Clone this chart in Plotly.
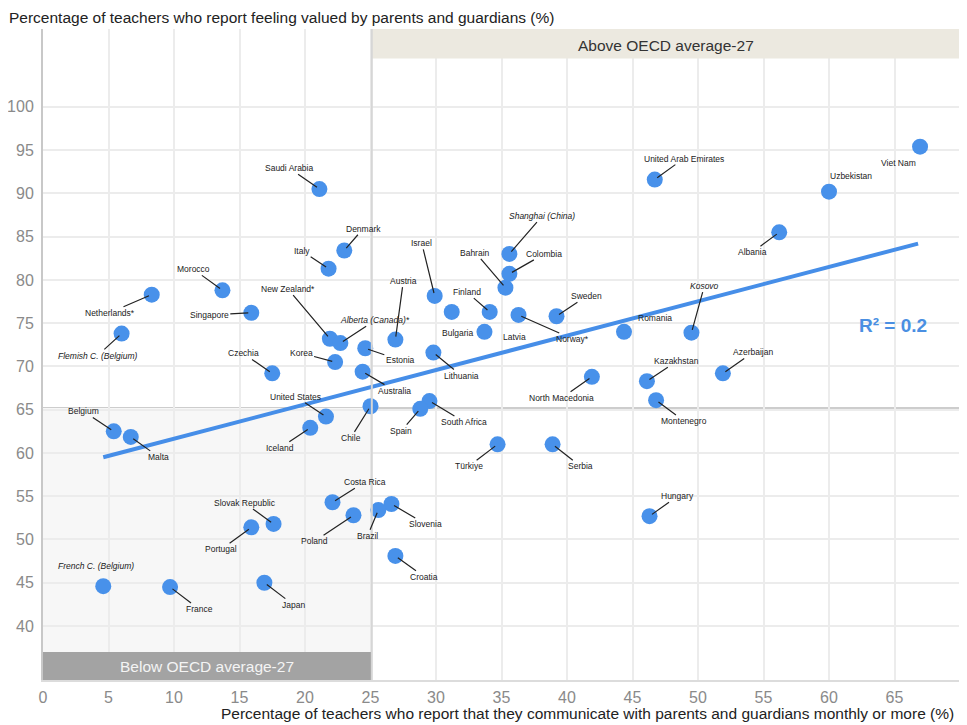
import plotly.graph_objects as go

# ---- data ----
countries = ["Viet Nam", "United Arab Emirates", "Uzbekistan", "Saudi Arabia", "Albania", "Denmark",
             "Shanghai (China)", "Italy", "Colombia", "Bahrain", "Morocco", "Israel", "Netherlands*",
             "Bulgaria", "Finland", "Latvia", "Norway*", "Sweden", "Singapore", "New Zealand*",
             "Alberta (Canada)*", "Austria", "Flemish C. (Belgium)", "Estonia", "Korea", "Czechia",
             "Australia", "Lithuania", "Romania", "Kosovo", "Kazakhstan", "Azerbaijan", "North Macedonia",
             "Montenegro", "United States", "Chile", "South Africa", "Spain", "Belgium", "Malta", "Iceland",
             "Türkiye", "Serbia", "Costa Rica", "Slovenia", "Brazil", "Poland", "Slovak Republic",
             "Portugal", "Hungary", "Croatia", "French C. (Belgium)", "France", "Japan"]
communicate = [66.95, 46.7, 60.0, 21.1, 56.2, 23.0,
               35.6, 21.8, 35.6, 35.3, 13.7, 29.9, 8.3,
               31.2, 34.1, 33.7, 36.3, 39.2, 15.9, 21.9,
               22.7, 26.9, 6.0, 24.6, 22.3, 17.5,
               24.4, 29.8, 44.35, 49.5, 46.1, 51.9, 41.9,
               46.8, 21.6, 25.0, 29.5, 28.8, 5.4, 6.7, 20.4,
               34.7, 38.9, 22.1, 26.6, 25.6, 23.7, 17.6,
               15.9, 46.3, 26.9, 4.6, 9.7, 16.9]
valued = [95.4, 91.6, 90.2, 90.5, 85.5, 83.4,
          83.0, 81.3, 80.7, 79.1, 78.8, 78.15, 78.3,
          76.3, 76.3, 74.0, 75.95, 75.8, 76.2, 73.2,
          72.7, 73.1, 73.8, 72.1, 70.5, 69.2,
          69.4, 71.6, 74.0, 73.9, 68.3, 69.2, 68.8,
          66.1, 64.2, 65.4, 66.0, 65.1, 62.5, 61.85, 62.9,
          61.0, 61.0, 54.3, 54.1, 53.4, 52.8, 51.8,
          51.4, 52.7, 48.1, 44.6, 44.5, 45.0]
italic_names = ["Shanghai (China)", "Alberta (Canada)*", "Flemish C. (Belgium)", "French C. (Belgium)", "Kosovo"]
no_leader = ["Viet Nam", "Uzbekistan", "Bulgaria", "Latvia", "Romania", "French C. (Belgium)"]

oecd_avg_x = 25.1
oecd_avg_y = 65.2
trend_x = [4.6, 66.8]
trend_y = [59.5, 84.2]
r2_text = "R² = 0.2"

x_ticks = list(range(0, 71, 5))
y_ticks = list(range(40, 101, 5))

# label offsets in pixels (label centre relative to the point)
label_offsets = {
    "Viet Nam": (-22, 16), "United Arab Emirates": (29, -21), "Uzbekistan": (22, -16),
    "Saudi Arabia": (-30, -21), "Albania": (-27, 20), "Denmark": (19, -22),
    "Shanghai (China)": (33, -38), "Italy": (-27, -18), "Colombia": (35, -20),
    "Bahrain": (-30, -35), "Morocco": (-29, -21), "Israel": (-13, -53),
    "Netherlands*": (-42, 18), "Bulgaria": (6, 21), "Finland": (-23, -20),
    "Latvia": (30, 5), "Norway*": (54, 24), "Sweden": (30, -20), "Singapore": (-42, 2),
    "New Zealand*": (-42, -50), "Alberta (Canada)*": (35, -23), "Austria": (8, -59),
    "Flemish C. (Belgium)": (-24, 22), "Estonia": (35, 12), "Korea": (-34, -9),
    "Czechia": (-29, -20), "Australia": (32, 19), "Lithuania": (28, 23),
    "Romania": (31, -14), "Kosovo": (13, -47), "Kazakhstan": (30, -20),
    "Azerbaijan": (30, -21), "North Macedonia": (-30, 21), "Montenegro": (28, 21),
    "United States": (-30, -20), "Chile": (-20, 32), "South Africa": (35, 21),
    "Spain": (-19, 22), "Belgium": (-30, -20), "Malta": (28, 20), "Iceland": (-30, 20),
    "Türkiye": (-29, 22), "Serbia": (28, 22), "Costa Rica": (32, -20),
    "Slovenia": (34, 20), "Brazil": (-11, 26), "Poland": (-39, 26),
    "Slovak Republic": (-29, -21), "Portugal": (-30, 22), "Hungary": (28, -20),
    "Croatia": (29, 21), "French C. (Belgium)": (-7, -20), "France": (29, 22), "Japan": (29, 22),
}

FONT = "Liberation Sans, Arial, sans-serif"
BLUE = "rgb(72,145,234)"

fig = go.Figure()

fig.add_trace(go.Scatter(x=trend_x, y=trend_y, mode="lines",
                         line=dict(color="rgb(70,142,232)", width=4),
                         hoverinfo="skip", showlegend=False))
fig.add_trace(go.Scatter(x=communicate, y=valued, mode="markers", text=countries,
                         marker=dict(size=16, color=BLUE, line=dict(width=0)),
                         hovertemplate="%{text}<br>%{x}, %{y}<extra></extra>", showlegend=False))

annotations = []
for name, xv, yv in zip(countries, communicate, valued):
    ax, ay = label_offsets[name]
    txt = f"<i>{name}</i>" if name in italic_names else name
    annotations.append(dict(
        x=xv, y=yv, xref="x", yref="y", text=txt, showarrow=True,
        ax=ax, ay=ay, arrowhead=0, arrowwidth=1.2, standoff=3, startstandoff=1,
        arrowcolor="rgba(0,0,0,0)" if name in no_leader else "#222",
        font=dict(family=FONT, size=8.5, color="#222"), borderpad=0,
    ))

annotations += [
    dict(text="Percentage of teachers who report feeling valued by parents and guardians (%)",
         xref="paper", yref="paper", x=0, xshift=-36, y=1.0, yshift=12, xanchor="left", yanchor="middle",
         showarrow=False, font=dict(family=FONT, size=15.5, color="#222")),
    dict(text="Percentage of teachers who report that they communicate with parents and guardians monthly or more (%)",
         xref="paper", yref="paper", x=1, xshift=-4, y=0, yshift=-33, xanchor="right", yanchor="middle",
         showarrow=False, font=dict(family=FONT, size=15.5, color="#222")),
    dict(text="Above OECD average-27", xref="x", yref="paper",
         x=(oecd_avg_x + 70) / 2, y=1.0, yshift=-16, xanchor="center", yanchor="middle",
         showarrow=False, font=dict(family=FONT, size=15.5, color="#333")),
    dict(text="Below OECD average-27", xref="x", yref="paper",
         x=oecd_avg_x / 2, y=0, yshift=14, xanchor="center", yanchor="middle",
         showarrow=False, font=dict(family=FONT, size=15.5, color="#f4f4f4")),
    dict(text=f"<b>{r2_text}</b>", xref="x", yref="y", x=64.9, y=74.7,
         showarrow=False, font=dict(family=FONT, size=19, color="rgb(74,143,226)")),
]

shapes = [
    # light shading of the lower-left quadrant
    dict(type="rect", xref="x", yref="y", x0=0, x1=oecd_avg_x, y0=33.76, y1=oecd_avg_y,
         fillcolor="#f7f7f7", line=dict(width=0), layer="below"),
    # average lines
    dict(type="line", xref="paper", yref="y", x0=0, x1=1, y0=oecd_avg_y, y1=oecd_avg_y,
         line=dict(color="#bdbdbd", width=1.5), layer="below"),
    # Above band
    dict(type="rect", xref="x", yref="y", x0=oecd_avg_x, x1=70, y0=105.6, y1=109.0,
         fillcolor="#ece9e0", line=dict(width=0), layer="above"),
    # Below band
    dict(type="rect", xref="x", yref="y", x0=0, x1=oecd_avg_x, y0=33.76, y1=37.0,
         fillcolor="#a3a3a3", line=dict(width=0), layer="above"),
    dict(type="line", xref="x", yref="paper", x0=oecd_avg_x, x1=oecd_avg_x, y0=0, y1=1,
         line=dict(color="#d6d6d6", width=2), layer="above"),
]

# the page adds an 8px body margin, so the figure is 8px smaller than the window
fig.update_layout(
    width=959, height=717,
    margin=dict(l=35, r=7, t=21, b=45),
    plot_bgcolor="white", paper_bgcolor="white",
    annotations=annotations, shapes=shapes,
    font=dict(family=FONT),
    xaxis=dict(range=[0, 70], tickvals=x_ticks, ticks="", showgrid=True, gridcolor="#ececec",
               gridwidth=1.5, zeroline=False, showline=True, linecolor="#dcdcdc", linewidth=2,
               automargin=False,
               tickfont=dict(family=FONT, size=16, color="#8a8a8a"), ticklabelstandoff=2),
    yaxis=dict(range=[33.76, 109.0], tickvals=y_ticks, ticks="", showgrid=True, gridcolor="#ececec",
               gridwidth=1.5, zeroline=False, showline=True, linecolor="#c8c8c8", linewidth=2,
               automargin=False,
               tickfont=dict(family=FONT, size=16, color="#8a8a8a"), ticklabelstandoff=4),
)

fig.write_html("out.html")
